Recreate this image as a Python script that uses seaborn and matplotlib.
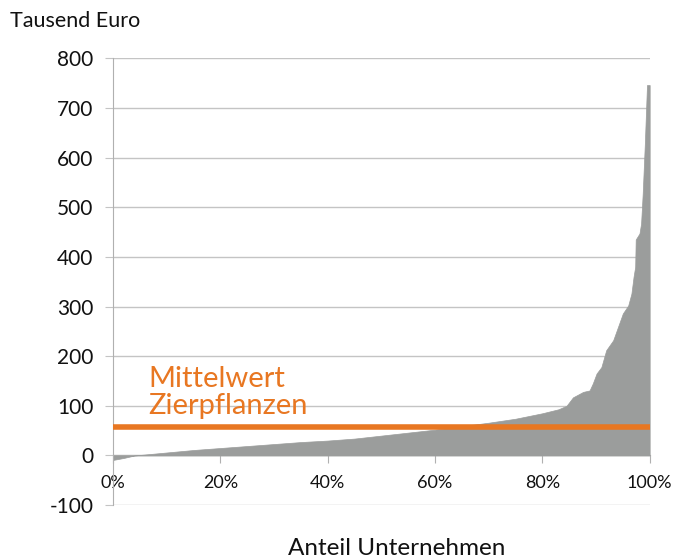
import numpy as np
import matplotlib.pyplot as plt
import seaborn as sns

sns.set_style("white")
plt.rcParams['font.family'] = ['Lato', 'DejaVu Sans']
plt.rcParams['axes.unicode_minus'] = False

# sorted firm results (share of firms in %, value in thousand euro)
anteil = [0, 2, 4, 6, 8, 10, 15, 20, 25, 30, 35, 40, 45, 50, 55, 60, 65,
          70, 75, 80, 83, 84.5, 85.7, 87.6, 88.8, 89.4, 90.1, 91.0, 91.9,
          93.2, 94.1, 95.0, 96.0, 96.6, 97.0, 97.3, 97.4, 98.1, 98.4,
          98.7, 99.1, 99.5, 100]
wert = [-9, -5, 0, 2, 4, 6, 11, 15, 19, 23, 27, 30, 34, 40, 46, 52, 59,
        66, 74, 85, 93, 100, 117, 128, 131, 145, 165, 178, 212,
        232, 259, 286, 302, 326, 360, 380, 435, 447, 467,
        527, 628, 746, 746]
mittelwert = 57

fig = plt.figure(figsize=(6.81, 5.60), dpi=100)
ax = fig.add_axes([0.166, 0.098, 0.788, 0.798])

ax.fill_between(anteil, wert, 0, color='#9b9d9c', linewidth=0.5,
                edgecolor='#9b9d9c', zorder=2)
sns.lineplot(x=[0, 100], y=[mittelwert, mittelwert], color='#e87722',
             linewidth=4, ax=ax, zorder=3)

ax.set_xlim(0, 100)
ax.set_ylim(-100, 800)
ax.set_yticks(range(-100, 801, 100))
ax.set_xticks(range(0, 101, 20))
ax.set_xticklabels([f"{v}%" for v in range(0, 101, 20)])
ax.yaxis.grid(True, color='#c4c4c4', linewidth=1)
ax.xaxis.grid(False)

for s in ['top', 'right']:
    ax.spines[s].set_visible(False)
ax.spines['left'].set_color('#b0b0b0')
ax.spines['bottom'].set_position(('data', 0))
ax.spines['bottom'].set_color('#b0b0b0')
ax.spines['bottom'].set_zorder(1)

ax.tick_params(axis='y', length=6, color='#c4c4c4', labelsize=15, pad=8,
               labelcolor='#111111', left=True)
ax.tick_params(axis='x', length=6, color='#b0b0b0', labelsize=13, pad=8,
               labelcolor='#111111', bottom=True, direction='out')

ax.text(6.5, 126, "Mittelwert\nZierpflanzen", color='#e87722', fontsize=21,
        va='center', ha='left', linespacing=1.05)

fig.text(0.015, 0.963, "Tausend Euro", fontsize=15.5, va='center', ha='left',
         color='#111111')
fig.text(0.583, 0.021, "Anteil Unternehmen", fontsize=17.5, va='center',
         ha='center', color='#111111')

fig.savefig("out.png", dpi=100)
